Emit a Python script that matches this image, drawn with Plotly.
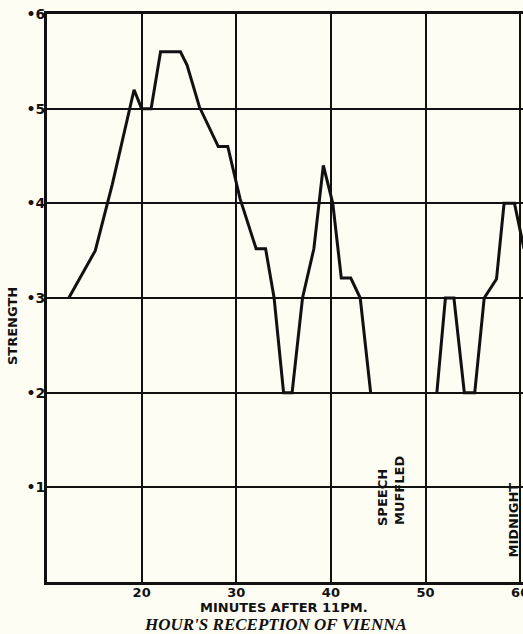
import plotly.graph_objects as go

# Minutes after 11 PM and reception strength (None = gap, "speech muffled")
minutes = [12.3, 15.1, 16.9, 19.2, 20.0, 21.0, 22.0, 24.1, 24.8, 26.1, 28.1, 29.1,
           30.4, 32.1, 33.1, 34.0, 35.0, 35.9, 37.0, 38.2, 39.2, 40.2, 41.1, 42.1,
           43.1, 44.2, None,
           51.2, 52.1, 53.0, 54.1, 55.2, 56.2, 57.5, 58.3, 59.4, 60.4]
strength = [0.30, 0.35, 0.42, 0.52, 0.50, 0.50, 0.56, 0.56, 0.546, 0.502, 0.46, 0.46,
            0.405, 0.352, 0.352, 0.30, 0.20, 0.20, 0.30, 0.352, 0.44, 0.40, 0.321, 0.321,
            0.30, 0.20, None,
            0.20, 0.30, 0.30, 0.20, 0.20, 0.30, 0.32, 0.40, 0.40, 0.352]

x_ticks = [20, 30, 40, 50, 60]
x_labels = ["20", "30", "40", "50", "60"]
y_ticks = [0.1, 0.2, 0.3, 0.4, 0.5, 0.6]
y_labels = ["•1", "•2", "•3", "•4", "•5", "•6"]

bg = "#fdfdf4"
ink = "#111111"
sans = "DejaVu Sans"

fig = go.Figure()
fig.add_trace(go.Scatter(x=minutes, y=strength, mode="lines",
                         line=dict(color=ink, width=3), connectgaps=False,
                         hoverinfo="skip", showlegend=False))

fig.update_layout(
    width=523, height=634,
    margin=dict(l=47, r=0, t=14, b=52, autoexpand=False),
    paper_bgcolor=bg, plot_bgcolor=bg,
    showlegend=False,
    xaxis=dict(range=[10.0, 60.3], tickvals=x_ticks, ticktext=x_labels,
               showgrid=True, gridcolor=ink, gridwidth=2,
               showline=True, linecolor=ink, linewidth=3, mirror=True,
               ticks="", zeroline=False, automargin=False, ticklabelstandoff=-4,
               ticklabeloverflow="allow",
               tickfont=dict(family=sans, size=13, color=ink, weight="bold")),
    yaxis=dict(range=[0, 0.6], tickvals=y_ticks, ticktext=y_labels,
               showgrid=True, gridcolor=ink, gridwidth=2,
               showline=True, linecolor=ink, linewidth=3, mirror=True,
               ticks="", zeroline=False, ticklabelstandoff=-4, automargin=False,
               ticklabeloverflow="allow",
               tickfont=dict(family=sans, size=14, color=ink, weight="bold")),
)

ann_font = dict(family=sans, size=13, color=ink, weight="bold")


def label(text, px, py, font, angle=0):
    fig.add_annotation(text=text, xref="paper", yref="paper",
                       x=(px - 47) / 476, y=(582 - py) / 568, showarrow=False,
                       xanchor="center", yanchor="middle", textangle=angle, font=font)


label("MINUTES AFTER 11PM.", 284, 607,
      dict(family=sans, size=13, color=ink, weight="bold"))
label("<i>HOUR'S RECEPTION OF VIENNA</i>", 275, 624,
      dict(family="Liberation Serif", size=17, color=ink, weight="bold"))
label("STRENGTH", 13, 326, ann_font, -90)
label("SPEECH", 382, 498, ann_font, -90)
label("MUFFLED", 399, 491, ann_font, -90)
label("MIDNIGHT", 512.5, 520, ann_font, -90)

fig.write_html("out.html", post_script="document.body.style.margin='0';",
               config={"displayModeBar": False})
